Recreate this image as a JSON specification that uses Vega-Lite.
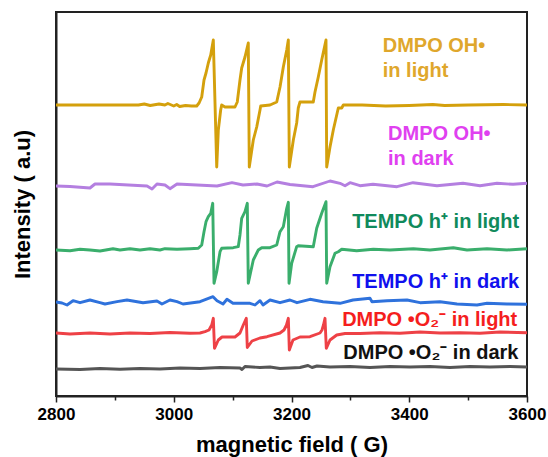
{
  "$schema": "https://vega.github.io/schema/vega-lite/v6.json",
  "width": 471,
  "height": 384,
  "autosize": {"type": "none"},
  "padding": {"left": 56, "top": 12, "right": 21, "bottom": 61},
  "background": "white",
  "config": {
    "view": {"stroke": "#222222", "strokeWidth": 2},
    "font": "Liberation Sans"
  },
  "datasets": {
    "spectra": [
      {"s":"OH light","x":2800,"y":291},{"s":"OH light","x":2870,"y":291},{"s":"OH light","x":2940,"y":291},{"s":"OH light","x":2950,"y":292},{"s":"OH light","x":2960,"y":290.5},{"s":"OH light","x":2975,"y":292},{"s":"OH light","x":2985,"y":291},{"s":"OH light","x":2990,"y":292.5},{"s":"OH light","x":3000,"y":290},{"s":"OH light","x":3005,"y":291.5},{"s":"OH light","x":3010,"y":289.5},{"s":"OH light","x":3020,"y":290.5},{"s":"OH light","x":3030,"y":290},{"s":"OH light","x":3039,"y":290},{"s":"OH light","x":3043,"y":293},{"s":"OH light","x":3047.5,"y":299},{"s":"OH light","x":3051.4,"y":316},{"s":"OH light","x":3054.8,"y":323},{"s":"OH light","x":3058.7,"y":333},{"s":"OH light","x":3062.8,"y":341},{"s":"OH light","x":3067.2,"y":356},{"s":"OH light","x":3073,"y":229},{"s":"OH light","x":3075.7,"y":266},{"s":"OH light","x":3079.7,"y":286},{"s":"OH light","x":3081.4,"y":291},{"s":"OH light","x":3087,"y":289},{"s":"OH light","x":3104,"y":289},{"s":"OH light","x":3107.9,"y":294},{"s":"OH light","x":3112.5,"y":316},{"s":"OH light","x":3115.4,"y":328},{"s":"OH light","x":3121,"y":339},{"s":"OH light","x":3126.6,"y":353},{"s":"OH light","x":3128.3,"y":229},{"s":"OH light","x":3135.1,"y":256},{"s":"OH light","x":3140.9,"y":269},{"s":"OH light","x":3146.5,"y":286},{"s":"OH light","x":3147.7,"y":290},{"s":"OH light","x":3163.5,"y":291},{"s":"OH light","x":3174.9,"y":294},{"s":"OH light","x":3180.5,"y":309},{"s":"OH light","x":3186.1,"y":329},{"s":"OH light","x":3191.9,"y":346},{"s":"OH light","x":3194.6,"y":356},{"s":"OH light","x":3196.3,"y":229},{"s":"OH light","x":3203.1,"y":256},{"s":"OH light","x":3208.8,"y":273},{"s":"OH light","x":3211.5,"y":288},{"s":"OH light","x":3214.4,"y":294},{"s":"OH light","x":3237,"y":294},{"s":"OH light","x":3239.9,"y":304},{"s":"OH light","x":3245.5,"y":319},{"s":"OH light","x":3251.3,"y":336},{"s":"OH light","x":3258.6,"y":356},{"s":"OH light","x":3259.8,"y":229},{"s":"OH light","x":3265.4,"y":249},{"s":"OH light","x":3271,"y":266},{"s":"OH light","x":3279.5,"y":288},{"s":"OH light","x":3285.3,"y":288},{"s":"OH light","x":3288,"y":291},{"s":"OH light","x":3320,"y":291},{"s":"OH light","x":3360,"y":290},{"s":"OH light","x":3400,"y":290.5},{"s":"OH light","x":3440,"y":291.5},{"s":"OH light","x":3460,"y":290.5},{"s":"OH light","x":3500,"y":291},{"s":"OH light","x":3560,"y":291.5},{"s":"OH light","x":3600,"y":291},

      {"s":"OH dark","x":2800,"y":210},{"s":"OH dark","x":2823.8,"y":209.5},{"s":"OH dark","x":2857.7,"y":208},{"s":"OH dark","x":2866.2,"y":212},{"s":"OH dark","x":2891.7,"y":212},{"s":"OH dark","x":2954.6,"y":210},{"s":"OH dark","x":2963.1,"y":207},{"s":"OH dark","x":2971.5,"y":212},{"s":"OH dark","x":2985.1,"y":211},{"s":"OH dark","x":2993.6,"y":207.3},{"s":"OH dark","x":3005.5,"y":212},{"s":"OH dark","x":3073.5,"y":210},{"s":"OH dark","x":3098.9,"y":213.3},{"s":"OH dark","x":3117.6,"y":211},{"s":"OH dark","x":3141.4,"y":212},{"s":"OH dark","x":3158.4,"y":210},{"s":"OH dark","x":3175.4,"y":214},{"s":"OH dark","x":3197.4,"y":211.5},{"s":"OH dark","x":3236.5,"y":209.3},{"s":"OH dark","x":3265.4,"y":215},{"s":"OH dark","x":3282.4,"y":212.7},{"s":"OH dark","x":3290.9,"y":210.3},{"s":"OH dark","x":3299.4,"y":213.3},{"s":"OH dark","x":3316.3,"y":210.3},{"s":"OH dark","x":3338.4,"y":211.7},{"s":"OH dark","x":3379.2,"y":209.3},{"s":"OH dark","x":3406.4,"y":213.3},{"s":"OH dark","x":3447.1,"y":210.3},{"s":"OH dark","x":3491.3,"y":212.7},{"s":"OH dark","x":3520.2,"y":210.3},{"s":"OH dark","x":3549,"y":212.7},{"s":"OH dark","x":3576.2,"y":211.7},{"s":"OH dark","x":3600,"y":212.7},

      {"s":"TEMPO light","x":2800,"y":146},{"s":"TEMPO light","x":2823.8,"y":145.3},{"s":"TEMPO light","x":2840.8,"y":146.7},{"s":"TEMPO light","x":2857.7,"y":146},{"s":"TEMPO light","x":2874.7,"y":145},{"s":"TEMPO light","x":2896.8,"y":147.3},{"s":"TEMPO light","x":2908.7,"y":146},{"s":"TEMPO light","x":2925.7,"y":147.3},{"s":"TEMPO light","x":2942.7,"y":146},{"s":"TEMPO light","x":2959.7,"y":147.3},{"s":"TEMPO light","x":2976.6,"y":146},{"s":"TEMPO light","x":2985.1,"y":147.3},{"s":"TEMPO light","x":3005.5,"y":146.7},{"s":"TEMPO light","x":3027.6,"y":147.3},{"s":"TEMPO light","x":3041.7,"y":147.7},{"s":"TEMPO light","x":3047.5,"y":151},{"s":"TEMPO light","x":3051.4,"y":164.3},{"s":"TEMPO light","x":3054.8,"y":174.3},{"s":"TEMPO light","x":3058.7,"y":179.3},{"s":"TEMPO light","x":3062.8,"y":182.7},{"s":"TEMPO light","x":3066.2,"y":192.7},{"s":"TEMPO light","x":3068.4,"y":112.7},{"s":"TEMPO light","x":3073,"y":124.3},{"s":"TEMPO light","x":3078.6,"y":144.3},{"s":"TEMPO light","x":3081.4,"y":147.7},{"s":"TEMPO light","x":3101.1,"y":148.3},{"s":"TEMPO light","x":3109.6,"y":149.3},{"s":"TEMPO light","x":3112.5,"y":161},{"s":"TEMPO light","x":3115.4,"y":177.7},{"s":"TEMPO light","x":3121,"y":184.3},{"s":"TEMPO light","x":3124.9,"y":192.7},{"s":"TEMPO light","x":3126.6,"y":112.7},{"s":"TEMPO light","x":3135.1,"y":136},{"s":"TEMPO light","x":3143.6,"y":146},{"s":"TEMPO light","x":3149.4,"y":148.3},{"s":"TEMPO light","x":3163.5,"y":148.3},{"s":"TEMPO light","x":3174.9,"y":151},{"s":"TEMPO light","x":3180.5,"y":164.3},{"s":"TEMPO light","x":3186.1,"y":169.3},{"s":"TEMPO light","x":3191.9,"y":187.7},{"s":"TEMPO light","x":3194.6,"y":193.7},{"s":"TEMPO light","x":3195.8,"y":112.7},{"s":"TEMPO light","x":3200.3,"y":132.7},{"s":"TEMPO light","x":3208.8,"y":149.3},{"s":"TEMPO light","x":3211.5,"y":150.3},{"s":"TEMPO light","x":3237,"y":149.3},{"s":"TEMPO light","x":3242.8,"y":167.7},{"s":"TEMPO light","x":3251.3,"y":182.7},{"s":"TEMPO light","x":3258.6,"y":194.3},{"s":"TEMPO light","x":3259.8,"y":112.7},{"s":"TEMPO light","x":3265.4,"y":129.3},{"s":"TEMPO light","x":3273.9,"y":142.7},{"s":"TEMPO light","x":3279.5,"y":144.3},{"s":"TEMPO light","x":3285.3,"y":146.7},{"s":"TEMPO light","x":3310.7,"y":145.3},{"s":"TEMPO light","x":3338.9,"y":146.7},{"s":"TEMPO light","x":3367.3,"y":146},{"s":"TEMPO light","x":3406.9,"y":147.3},{"s":"TEMPO light","x":3435.2,"y":146},{"s":"TEMPO light","x":3474.8,"y":148.3},{"s":"TEMPO light","x":3498.1,"y":146},{"s":"TEMPO light","x":3532.1,"y":147.3},{"s":"TEMPO light","x":3566,"y":146},{"s":"TEMPO light","x":3600,"y":147.3},

      {"s":"TEMPO dark","x":2800,"y":94},{"s":"TEMPO dark","x":2810.2,"y":93},{"s":"TEMPO dark","x":2818.7,"y":91},{"s":"TEMPO dark","x":2828.9,"y":95.3},{"s":"TEMPO dark","x":2840.8,"y":93.3},{"s":"TEMPO dark","x":2857.7,"y":96},{"s":"TEMPO dark","x":2874.7,"y":93.3},{"s":"TEMPO dark","x":2883.2,"y":92},{"s":"TEMPO dark","x":2903.6,"y":94.3},{"s":"TEMPO dark","x":2920.6,"y":96},{"s":"TEMPO dark","x":2947.8,"y":93.3},{"s":"TEMPO dark","x":2971.5,"y":95},{"s":"TEMPO dark","x":2980,"y":92},{"s":"TEMPO dark","x":2993.6,"y":96},{"s":"TEMPO dark","x":3005.5,"y":94.3},{"s":"TEMPO dark","x":3015.7,"y":92},{"s":"TEMPO dark","x":3044.6,"y":94.3},{"s":"TEMPO dark","x":3066.7,"y":99.3},{"s":"TEMPO dark","x":3073.5,"y":95.3},{"s":"TEMPO dark","x":3083.7,"y":92},{"s":"TEMPO dark","x":3090.4,"y":96.7},{"s":"TEMPO dark","x":3100.6,"y":92.7},{"s":"TEMPO dark","x":3129.5,"y":92.7},{"s":"TEMPO dark","x":3138,"y":91},{"s":"TEMPO dark","x":3146.5,"y":95.3},{"s":"TEMPO dark","x":3151.6,"y":91},{"s":"TEMPO dark","x":3163.5,"y":96},{"s":"TEMPO dark","x":3180.5,"y":93.3},{"s":"TEMPO dark","x":3197.4,"y":96},{"s":"TEMPO dark","x":3209.3,"y":93.3},{"s":"TEMPO dark","x":3231.4,"y":96.7},{"s":"TEMPO dark","x":3253.5,"y":94.3},{"s":"TEMPO dark","x":3282.4,"y":92.7},{"s":"TEMPO dark","x":3304.5,"y":96},{"s":"TEMPO dark","x":3333.3,"y":97.7},{"s":"TEMPO dark","x":3336.7,"y":94.3},{"s":"TEMPO dark","x":3362.2,"y":95.3},{"s":"TEMPO dark","x":3396.2,"y":96},{"s":"TEMPO dark","x":3418.3,"y":93.3},{"s":"TEMPO dark","x":3452.2,"y":94.3},{"s":"TEMPO dark","x":3481.1,"y":92},{"s":"TEMPO dark","x":3515.1,"y":91},{"s":"TEMPO dark","x":3532.1,"y":92.7},{"s":"TEMPO dark","x":3566,"y":92},{"s":"TEMPO dark","x":3600,"y":91.7},

      {"s":"O2 light","x":2800,"y":63},{"s":"O2 light","x":2823.8,"y":62},{"s":"O2 light","x":2857.7,"y":63},{"s":"O2 light","x":2891.7,"y":62},{"s":"O2 light","x":2925.7,"y":63},{"s":"O2 light","x":2959.7,"y":62.5},{"s":"O2 light","x":2993.6,"y":63.5},{"s":"O2 light","x":3027.6,"y":62.7},{"s":"O2 light","x":3044.6,"y":63},{"s":"O2 light","x":3053.1,"y":64.3},{"s":"O2 light","x":3059.9,"y":66},{"s":"O2 light","x":3064.5,"y":71},{"s":"O2 light","x":3067.2,"y":77.7},{"s":"O2 light","x":3069.2,"y":47.7},{"s":"O2 light","x":3075.7,"y":56},{"s":"O2 light","x":3082,"y":59},{"s":"O2 light","x":3104,"y":59},{"s":"O2 light","x":3112.5,"y":63},{"s":"O2 light","x":3118.1,"y":71},{"s":"O2 light","x":3123.2,"y":77.7},{"s":"O2 light","x":3124.9,"y":48.5},{"s":"O2 light","x":3132.9,"y":55},{"s":"O2 light","x":3146.5,"y":58},{"s":"O2 light","x":3158.4,"y":59.3},{"s":"O2 light","x":3180.5,"y":63},{"s":"O2 light","x":3187.3,"y":66},{"s":"O2 light","x":3191.5,"y":71},{"s":"O2 light","x":3194.6,"y":77.7},{"s":"O2 light","x":3196.3,"y":46},{"s":"O2 light","x":3202.5,"y":56},{"s":"O2 light","x":3214.4,"y":59},{"s":"O2 light","x":3231.4,"y":59.3},{"s":"O2 light","x":3248.4,"y":63},{"s":"O2 light","x":3251.8,"y":66},{"s":"O2 light","x":3254.3,"y":71},{"s":"O2 light","x":3256.9,"y":77.7},{"s":"O2 light","x":3259.1,"y":47.7},{"s":"O2 light","x":3265.4,"y":56},{"s":"O2 light","x":3276.8,"y":61},{"s":"O2 light","x":3290.9,"y":62.5},{"s":"O2 light","x":3316.3,"y":62.5},{"s":"O2 light","x":3350.3,"y":63.3},{"s":"O2 light","x":3384.3,"y":62.7},{"s":"O2 light","x":3418.3,"y":64},{"s":"O2 light","x":3452.2,"y":63},{"s":"O2 light","x":3486.2,"y":63.3},{"s":"O2 light","x":3520.2,"y":62.7},{"s":"O2 light","x":3554.1,"y":64},{"s":"O2 light","x":3600,"y":63.3},

      {"s":"O2 dark","x":2800,"y":27},{"s":"O2 dark","x":2840.8,"y":26.5},{"s":"O2 dark","x":2874.7,"y":27.5},{"s":"O2 dark","x":2908.7,"y":26.7},{"s":"O2 dark","x":2942.7,"y":27.5},{"s":"O2 dark","x":2976.6,"y":27},{"s":"O2 dark","x":3010.6,"y":28},{"s":"O2 dark","x":3044.6,"y":27.5},{"s":"O2 dark","x":3078.6,"y":28.5},{"s":"O2 dark","x":3112.5,"y":28},{"s":"O2 dark","x":3115.9,"y":26.5},{"s":"O2 dark","x":3121,"y":29.5},{"s":"O2 dark","x":3146.5,"y":28.5},{"s":"O2 dark","x":3163.5,"y":29},{"s":"O2 dark","x":3180.5,"y":27.5},{"s":"O2 dark","x":3214.4,"y":28.5},{"s":"O2 dark","x":3228,"y":30.5},{"s":"O2 dark","x":3234.8,"y":28.5},{"s":"O2 dark","x":3243.3,"y":30},{"s":"O2 dark","x":3265.4,"y":29},{"s":"O2 dark","x":3299.4,"y":29.5},{"s":"O2 dark","x":3333.3,"y":28.5},{"s":"O2 dark","x":3367.3,"y":29.5},{"s":"O2 dark","x":3401.3,"y":29},{"s":"O2 dark","x":3435.2,"y":29.5},{"s":"O2 dark","x":3469.2,"y":28.5},{"s":"O2 dark","x":3503.2,"y":29.5},{"s":"O2 dark","x":3537.1,"y":29},{"s":"O2 dark","x":3571.1,"y":29.5},{"s":"O2 dark","x":3600,"y":29}
    ],
    "labels": [
      {"t":"DMPO OH•","k":"OH light","x":3355,"y":344},
      {"t":"in light","k":"OH light","x":3355,"y":319},
      {"t":"DMPO OH•","k":"OH dark","x":3364,"y":256},
      {"t":"in dark","k":"OH dark","x":3364,"y":231},
      {"t":"TEMPO h⁺ in light","k":"TEMPO light","x":3303,"y":168},
      {"t":"TEMPO h⁺ in dark","k":"TEMPO dark","x":3303,"y":108},
      {"t":"DMPO •O₂⁻ in light","k":"O2 light","x":3286,"y":70},
      {"t":"DMPO •O₂⁻ in dark","k":"O2 dark","x":3288,"y":37}
    ]
  },
  "layer": [
    {
      "data": {"name": "spectra"},
      "mark": {"type": "line", "strokeWidth": 2.9, "clip": true, "strokeJoin": "round"},
      "encoding": {
        "x": {
          "field": "x", "type": "quantitative",
          "scale": {"domain": [2800, 3600], "nice": false, "zero": false},
          "axis": {
            "title": "magnetic field ( G)",
            "values": [2800, 2900, 3000, 3100, 3200, 3300, 3400, 3500, 3600],
            "format": "d",
            "labelExpr": "datum.value % 200 == 0 ? datum.label : ''",
            "labelFlush": false,
            "labelOverlap": false,
            "grid": false,
            "domainColor": "#222222", "domainWidth": 2,
            "tickColor": "#222222", "tickWidth": 1.5,
            "tickSize": {"condition": {"test": "datum.value % 200 == 0", "value": 6}, "value": 4},
            "labelFont": "Liberation Sans", "labelFontSize": 17, "labelFontWeight": "bold", "labelColor": "#000000", "labelPadding": 4,
            "titleFont": "Liberation Sans", "titleFontSize": 22, "titleFontWeight": "bold", "titleColor": "#000000", "titlePadding": 12
          }
        },
        "y": {
          "field": "y", "type": "quantitative",
          "scale": {"domain": [0, 384], "nice": false, "zero": false},
          "axis": {
            "title": "Intensity ( a.u)",
            "ticks": false, "labels": false, "grid": false,
            "domainColor": "#222222", "domainWidth": 2,
            "titleFont": "Liberation Sans", "titleFontSize": 22, "titleFontWeight": "bold", "titleColor": "#000000", "titlePadding": 22
          }
        },
        "color": {
          "field": "s", "type": "nominal", "legend": null,
          "scale": {
            "domain": ["OH light", "OH dark", "TEMPO light", "TEMPO dark", "O2 light", "O2 dark"],
            "range": ["#D4A00C", "#B47FE0", "#3AAE6C", "#2F72DC", "#EE4146", "#555555"]
          }
        }
      }
    },
    {
      "data": {"name": "labels"},
      "mark": {"type": "text", "align": "left", "baseline": "alphabetic", "fontSize": 20, "fontWeight": "bold", "font": "Liberation Sans"},
      "encoding": {
        "x": {"field": "x", "type": "quantitative"},
        "y": {"field": "y", "type": "quantitative"},
        "text": {"field": "t"},
        "color": {
          "field": "k", "type": "nominal", "legend": null,
          "scale": {
            "domain": ["OH light", "OH dark", "TEMPO light", "TEMPO dark", "O2 light", "O2 dark"],
            "range": ["#DFA72C", "#E040F0", "#108A5C", "#1010EE", "#F51E1E", "#111111"]
          }
        }
      }
    }
  ],
  "resolve": {"scale": {"color": "independent"}}
}
